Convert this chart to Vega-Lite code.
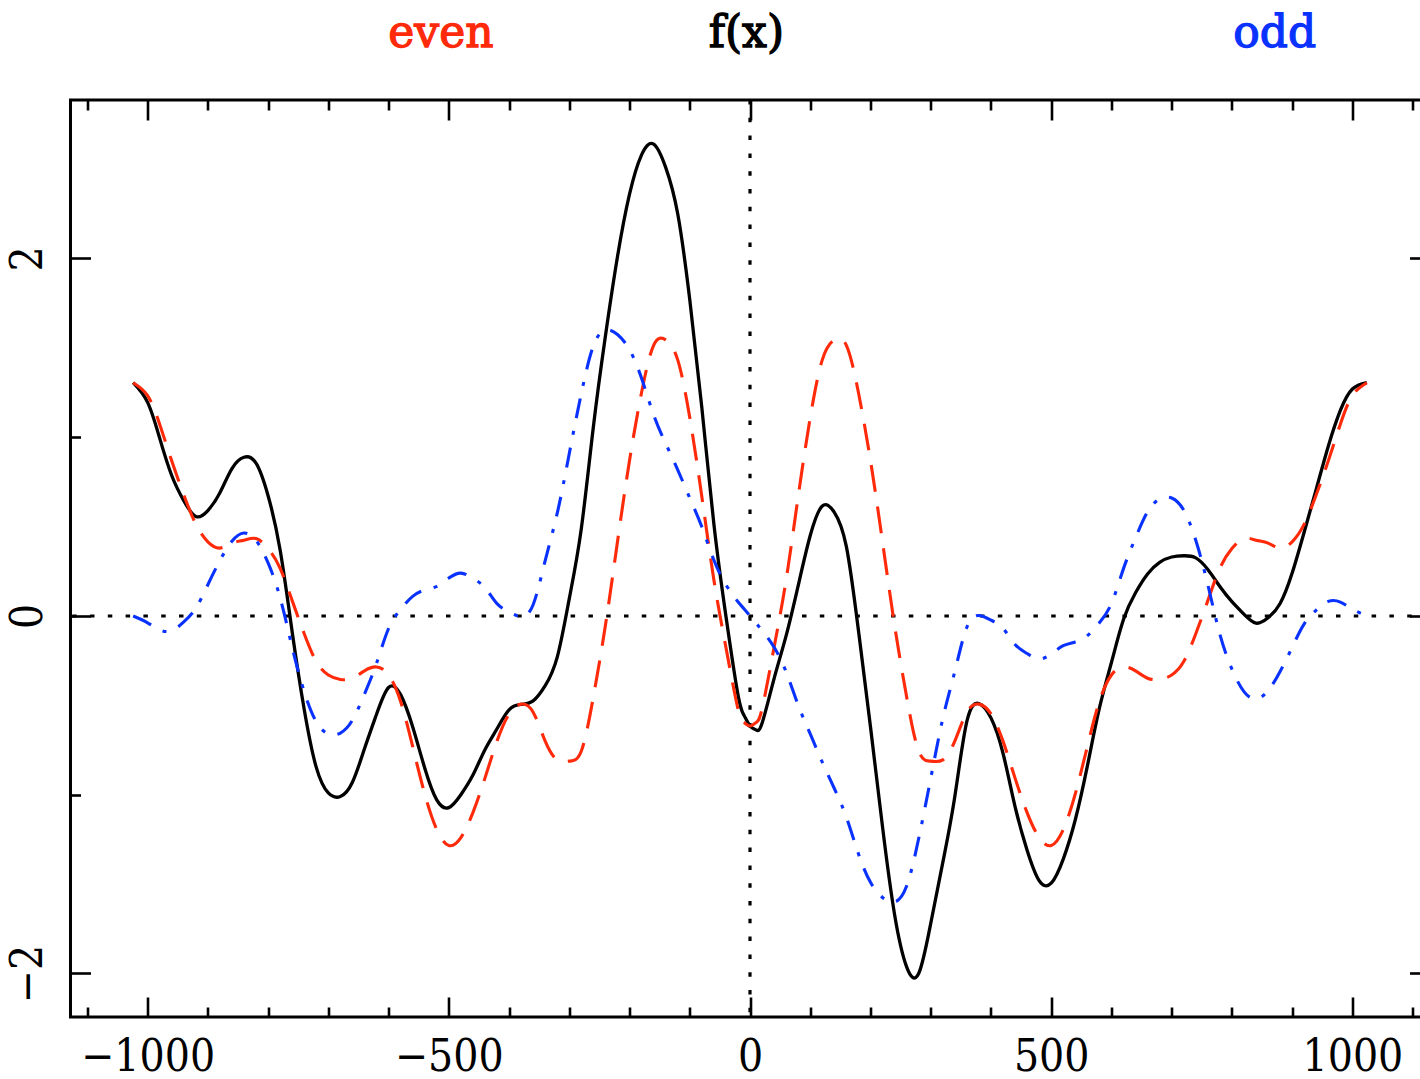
{
  "$schema": "https://vega.github.io/schema/vega-lite/v6.json",
  "width": 1359,
  "height": 917,
  "autosize": {"type": "none"},
  "padding": {"left": 70.5, "top": 100, "right": 0, "bottom": 62},
  "background": "white",
  "config": {
    "view": {"stroke": "black", "strokeWidth": 3},
    "axis": {
      "domain": false,
      "grid": false,
      "tickColor": "black",
      "tickWidth": 2.6,
      "labelColor": "black",
      "labelFont": "DejaVu Serif Condensed, DejaVu Serif",
      "labelFontSize": 44,
      "labelOverlap": false,
      "labelBound": false,
      "labelFlush": false,
      "title": null
    }
  },
  "datasets": {
    "curves": [
      {"x": -1024, "f": 1.305, "e": 1.305, "o": 0},
      {"x": -1000, "f": 1.195, "e": 1.233, "o": -0.038},
      {"x": -980, "f": 0.995, "e": 1.073, "o": -0.078},
      {"x": -960, "f": 0.786, "e": 0.868, "o": -0.082},
      {"x": -940, "f": 0.645, "e": 0.678, "o": -0.033},
      {"x": -920, "f": 0.557, "e": 0.514, "o": 0.044},
      {"x": -900, "f": 0.59, "e": 0.415, "o": 0.175},
      {"x": -880, "f": 0.69, "e": 0.38, "o": 0.31},
      {"x": -860, "f": 0.825, "e": 0.408, "o": 0.418},
      {"x": -840, "f": 0.888, "e": 0.424, "o": 0.464},
      {"x": -820, "f": 0.855, "e": 0.433, "o": 0.423},
      {"x": -800, "f": 0.673, "e": 0.377, "o": 0.297},
      {"x": -780, "f": 0.369, "e": 0.267, "o": 0.102},
      {"x": -760, "f": -0.089, "e": 0.086, "o": -0.175},
      {"x": -740, "f": -0.523, "e": -0.099, "o": -0.424},
      {"x": -720, "f": -0.847, "e": -0.255, "o": -0.592},
      {"x": -700, "f": -0.99, "e": -0.33, "o": -0.66},
      {"x": -680, "f": -1.01, "e": -0.355, "o": -0.655},
      {"x": -660, "f": -0.93, "e": -0.348, "o": -0.583},
      {"x": -640, "f": -0.743, "e": -0.307, "o": -0.437},
      {"x": -620, "f": -0.55, "e": -0.285, "o": -0.265},
      {"x": -600, "f": -0.4, "e": -0.33, "o": -0.07},
      {"x": -580, "f": -0.44, "e": -0.478, "o": 0.038},
      {"x": -560, "f": -0.62, "e": -0.73, "o": 0.11},
      {"x": -540, "f": -0.85, "e": -0.995, "o": 0.145},
      {"x": -520, "f": -1.029, "e": -1.195, "o": 0.166},
      {"x": -500, "f": -1.072, "e": -1.284, "o": 0.212},
      {"x": -480, "f": -1.0, "e": -1.24, "o": 0.24},
      {"x": -460, "f": -0.89, "e": -1.1, "o": 0.21},
      {"x": -440, "f": -0.748, "e": -0.907, "o": 0.159},
      {"x": -420, "f": -0.631, "e": -0.7, "o": 0.069},
      {"x": -400, "f": -0.525, "e": -0.548, "o": 0.023},
      {"x": -380, "f": -0.495, "e": -0.493, "o": -0.003},
      {"x": -360, "f": -0.475, "e": -0.538, "o": 0.063},
      {"x": -340, "f": -0.39, "e": -0.7, "o": 0.31},
      {"x": -320, "f": -0.23, "e": -0.805, "o": 0.575},
      {"x": -300, "f": 0.097, "e": -0.812, "o": 0.909},
      {"x": -280, "f": 0.49, "e": -0.755, "o": 1.245},
      {"x": -260, "f": 1.059, "e": -0.452, "o": 1.511},
      {"x": -240, "f": 1.567, "e": -0.052, "o": 1.6},
      {"x": -220, "f": 2.01, "e": 0.415, "o": 1.575},
      {"x": -200, "f": 2.36, "e": 0.87, "o": 1.49},
      {"x": -180, "f": 2.58, "e": 1.25, "o": 1.33},
      {"x": -160, "f": 2.64, "e": 1.514, "o": 1.126},
      {"x": -140, "f": 2.51, "e": 1.545, "o": 0.965},
      {"x": -120, "f": 2.25, "e": 1.433, "o": 0.818},
      {"x": -100, "f": 1.77, "e": 1.11, "o": 0.66},
      {"x": -80, "f": 1.167, "e": 0.669, "o": 0.499},
      {"x": -60, "f": 0.515, "e": 0.203, "o": 0.313},
      {"x": -40, "f": 0.0, "e": -0.175, "o": 0.175},
      {"x": -20, "f": -0.44, "e": -0.52, "o": 0.08},
      {"x": -10, "f": -0.555, "e": -0.596, "o": 0.041},
      {"x": 0, "f": -0.615, "e": -0.615, "o": 0},
      {"x": 10, "f": -0.637, "e": -0.596, "o": -0.041},
      {"x": 20, "f": -0.6, "e": -0.52, "o": -0.08},
      {"x": 40, "f": -0.35, "e": -0.175, "o": -0.175},
      {"x": 60, "f": -0.11, "e": 0.203, "o": -0.313},
      {"x": 80, "f": 0.17, "e": 0.669, "o": -0.499},
      {"x": 100, "f": 0.45, "e": 1.11, "o": -0.66},
      {"x": 120, "f": 0.615, "e": 1.433, "o": -0.818},
      {"x": 140, "f": 0.58, "e": 1.545, "o": -0.965},
      {"x": 160, "f": 0.388, "e": 1.514, "o": -1.126},
      {"x": 180, "f": -0.08, "e": 1.25, "o": -1.33},
      {"x": 200, "f": -0.62, "e": 0.87, "o": -1.49},
      {"x": 220, "f": -1.18, "e": 0.415, "o": -1.575},
      {"x": 240, "f": -1.67, "e": -0.052, "o": -1.6},
      {"x": 260, "f": -1.963, "e": -0.452, "o": -1.511},
      {"x": 280, "f": -2.0, "e": -0.755, "o": -1.245},
      {"x": 300, "f": -1.72, "e": -0.812, "o": -0.909},
      {"x": 320, "f": -1.38, "e": -0.805, "o": -0.575},
      {"x": 340, "f": -1.01, "e": -0.7, "o": -0.31},
      {"x": 360, "f": -0.59, "e": -0.538, "o": -0.063},
      {"x": 380, "f": -0.49, "e": -0.493, "o": 0.003},
      {"x": 400, "f": -0.57, "e": -0.548, "o": -0.023},
      {"x": 420, "f": -0.768, "e": -0.7, "o": -0.069},
      {"x": 440, "f": -1.066, "e": -0.907, "o": -0.159},
      {"x": 460, "f": -1.31, "e": -1.1, "o": -0.21},
      {"x": 480, "f": -1.48, "e": -1.24, "o": -0.24},
      {"x": 500, "f": -1.495, "e": -1.284, "o": -0.212},
      {"x": 520, "f": -1.36, "e": -1.195, "o": -0.166},
      {"x": 540, "f": -1.14, "e": -0.995, "o": -0.145},
      {"x": 560, "f": -0.84, "e": -0.73, "o": -0.11},
      {"x": 580, "f": -0.516, "e": -0.478, "o": -0.038},
      {"x": 600, "f": -0.26, "e": -0.33, "o": 0.07},
      {"x": 620, "f": -0.02, "e": -0.285, "o": 0.265},
      {"x": 640, "f": 0.13, "e": -0.307, "o": 0.437},
      {"x": 660, "f": 0.235, "e": -0.348, "o": 0.583},
      {"x": 680, "f": 0.3, "e": -0.355, "o": 0.655},
      {"x": 700, "f": 0.33, "e": -0.33, "o": 0.66},
      {"x": 720, "f": 0.337, "e": -0.255, "o": 0.592},
      {"x": 740, "f": 0.325, "e": -0.099, "o": 0.424},
      {"x": 760, "f": 0.26, "e": 0.086, "o": 0.175},
      {"x": 780, "f": 0.165, "e": 0.267, "o": -0.102},
      {"x": 800, "f": 0.08, "e": 0.377, "o": -0.297},
      {"x": 820, "f": 0.01, "e": 0.433, "o": -0.423},
      {"x": 840, "f": -0.04, "e": 0.424, "o": -0.464},
      {"x": 860, "f": -0.01, "e": 0.408, "o": -0.418},
      {"x": 880, "f": 0.07, "e": 0.38, "o": -0.31},
      {"x": 900, "f": 0.24, "e": 0.415, "o": -0.175},
      {"x": 920, "f": 0.47, "e": 0.514, "o": -0.044},
      {"x": 940, "f": 0.71, "e": 0.678, "o": 0.033},
      {"x": 960, "f": 0.95, "e": 0.868, "o": 0.082},
      {"x": 980, "f": 1.15, "e": 1.073, "o": 0.078},
      {"x": 1000, "f": 1.27, "e": 1.233, "o": 0.038},
      {"x": 1024, "f": 1.306, "e": 1.305, "o": 0}
    ],
    "zero": [{"v": 0}],
    "labels": [
      {"label": "even", "x": -513, "y": 3.186},
      {"label": "f(x)", "x": -6, "y": 3.186},
      {"label": "odd", "x": 871, "y": 3.186}
    ]
  },
  "resolve": {"axis": {"x": "independent", "y": "independent"}},
  "layer": [
    {
      "data": {"name": "zero"},
      "mark": {"type": "rule", "color": "black", "strokeWidth": 3.2, "strokeDash": [4.5, 13.3]},
      "encoding": {
        "y": {"field": "v", "type": "quantitative", "axis": null, "scale": {"domain": [-2.2434, 2.8867], "nice": false, "zero": false}}
      }
    },
    {
      "data": {"name": "zero"},
      "mark": {"type": "rule", "color": "black", "strokeWidth": 3.2, "strokeDash": [4.5, 13.3]},
      "encoding": {
        "x": {"field": "v", "type": "quantitative", "axis": null, "scale": {"domain": [-1128, 1128], "nice": false, "zero": false}}
      }
    },
    {
      "data": {"name": "curves"},
      "mark": {"type": "line", "interpolate": "natural", "color": "black", "strokeWidth": 3.3},
      "encoding": {
        "x": {
          "field": "x", "type": "quantitative",
          "scale": {"domain": [-1128, 1128], "nice": false, "zero": false},
          "axis": {
            "orient": "bottom",
            "format": "d",
            "values": [-1100, -1000, -900, -800, -700, -600, -500, -400, -300, -200, -100, 0, 100, 200, 300, 400, 500, 600, 700, 800, 900, 1000, 1100],
            "tickSize": {"condition": {"test": "datum.value % 500 === 0", "value": -20}, "value": -10},
            "labelExpr": "datum.value % 500 === 0 ? datum.label : ''",
            "labelBaseline": "alphabetic",
            "labelPadding": 73
          }
        },
        "y": {
          "field": "f", "type": "quantitative",
          "scale": {"domain": [-2.2434, 2.8867], "nice": false, "zero": false},
          "axis": {
            "orient": "left",
            "format": "d",
            "values": [-2, -1, 0, 1, 2],
            "tickSize": {"condition": {"test": "datum.value % 2 === 0", "value": -20}, "value": -10},
            "labelExpr": "datum.value % 2 === 0 ? datum.label : ''",
            "labelAngle": -90,
            "labelAlign": "center",
            "labelBaseline": "alphabetic",
            "labelPadding": 48.8
          }
        }
      }
    },
    {
      "data": {"name": "curves"},
      "mark": {"type": "line", "interpolate": "natural", "color": "#ff2a0a", "strokeWidth": 3.1, "strokeDash": [27, 15]},
      "encoding": {
        "x": {
          "field": "x", "type": "quantitative",
          "scale": {"domain": [-1128, 1128], "nice": false, "zero": false},
          "axis": {
            "orient": "top",
            "values": [-1100, -1000, -900, -800, -700, -600, -500, -400, -300, -200, -100, 0, 100, 200, 300, 400, 500, 600, 700, 800, 900, 1000, 1100],
            "tickSize": {"condition": {"test": "datum.value % 500 === 0", "value": -20}, "value": -10},
            "labels": false
          }
        },
        "y": {
          "field": "e", "type": "quantitative",
          "scale": {"domain": [-2.2434, 2.8867], "nice": false, "zero": false},
          "axis": {
            "orient": "right",
            "values": [-2, -1, 0, 1, 2],
            "tickSize": {"condition": {"test": "datum.value % 2 === 0", "value": -20}, "value": -10},
            "labels": false
          }
        }
      }
    },
    {
      "data": {"name": "curves"},
      "mark": {"type": "line", "interpolate": "natural", "color": "#0a32ff", "strokeWidth": 3.1, "strokeDash": [20, 13, 4, 13]},
      "encoding": {
        "x": {"field": "x", "type": "quantitative", "axis": null, "scale": {"domain": [-1128, 1128], "nice": false, "zero": false}},
        "y": {"field": "o", "type": "quantitative", "axis": null, "scale": {"domain": [-2.2434, 2.8867], "nice": false, "zero": false}}
      }
    },
    {
      "data": {"name": "labels"},
      "mark": {"type": "text", "font": "DejaVu Serif", "fontSize": 44, "align": "center", "baseline": "alphabetic", "strokeWidth": 1.3},
      "encoding": {
        "x": {"field": "x", "type": "quantitative", "axis": null, "scale": {"domain": [-1128, 1128], "nice": false, "zero": false}},
        "y": {"field": "y", "type": "quantitative", "axis": null, "scale": {"domain": [-2.2434, 2.8867], "nice": false, "zero": false}},
        "text": {"field": "label"},
        "color": {"field": "label", "type": "nominal", "legend": null, "scale": {"domain": ["even", "f(x)", "odd"], "range": ["#ff2a0a", "#000000", "#0a32ff"]}},
        "stroke": {"field": "label", "type": "nominal", "legend": null, "scale": {"domain": ["even", "f(x)", "odd"], "range": ["#ff2a0a", "#000000", "#0a32ff"]}}
      }
    }
  ]
}
